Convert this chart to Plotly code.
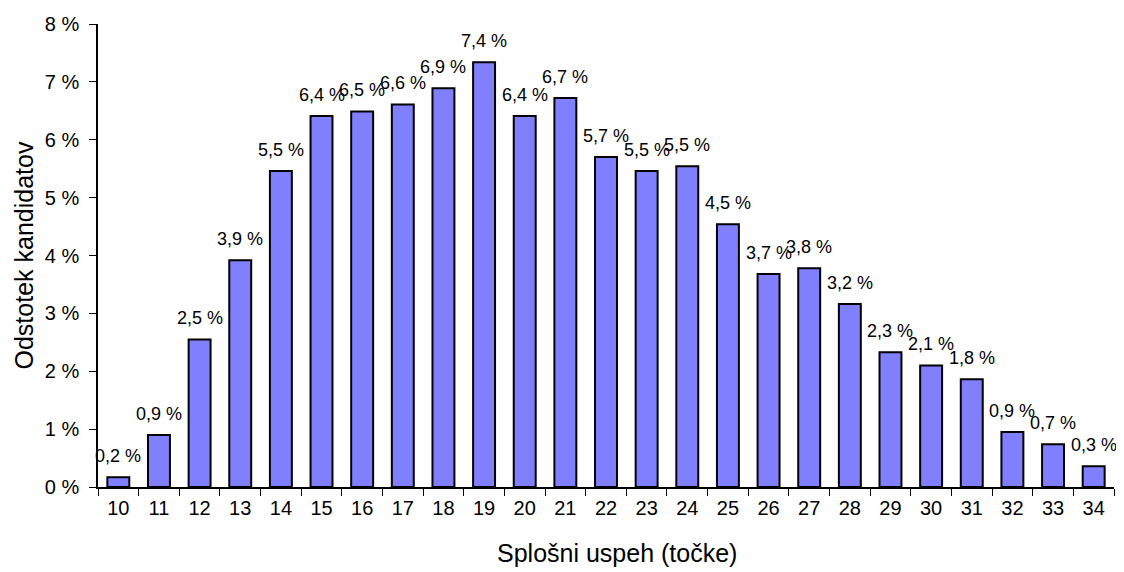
import plotly.graph_objects as go

categories = [str(v) for v in range(10, 35)]
values = [0.17, 0.9, 2.55, 3.92, 5.46, 6.41, 6.49, 6.61, 6.89, 7.34, 6.41, 6.72,
          5.70, 5.46, 5.54, 4.54, 3.68, 3.78, 3.16, 2.33, 2.10, 1.86, 0.95, 0.74, 0.36]
labels = ["0,2 %", "0,9 %", "2,5 %", "3,9 %", "5,5 %", "6,4 %", "6,5 %", "6,6 %", "6,9 %",
          "7,4 %", "6,4 %", "6,7 %", "5,7 %", "5,5 %", "5,5 %", "4,5 %", "3,7 %", "3,8 %",
          "3,2 %", "2,3 %", "2,1 %", "1,8 %", "0,9 %", "0,7 %", "0,3 %"]
ytick_vals = [0, 1, 2, 3, 4, 5, 6, 7, 8]
ytick_text = ["0 %", "1 %", "2 %", "3 %", "4 %", "5 %", "6 %", "7 %", "8 %"]
x_title = "Splošni uspeh (točke)"
y_title = "Odstotek kandidatov"

font = "Liberation Sans, Arial, sans-serif"

fig = go.Figure(go.Bar(
    x=categories, y=values,
    marker=dict(color="#8080FF", line=dict(color="#000000", width=2)),
    hoverinfo="x+y",
))

# data labels placed at each category's index on the category axis
for i, (v, t) in enumerate(zip(values, labels)):
    fig.add_annotation(x=i, y=v, text=t, showarrow=False, xanchor="center",
                       yanchor="bottom", yshift=9,
                       font=dict(family=font, size=18, color="#000000"))

fig.add_annotation(x=0, y=0.5, xref="paper", yref="paper", text=y_title,
                   showarrow=False, textangle=-90, xanchor="center", yanchor="middle",
                   xshift=-75, font=dict(family=font, size=25, color="#000000"))
fig.add_annotation(x=0.5, y=0, xref="paper", yref="paper", text=x_title,
                   showarrow=False, xanchor="center", yanchor="middle",
                   xshift=11, yshift=-66, font=dict(family=font, size=25, color="#000000"))

fig.update_layout(
    width=1124, height=572,
    margin=dict(l=90, r=18, t=16, b=93, autoexpand=False),
    plot_bgcolor="white", paper_bgcolor="white",
    bargap=0.46, showlegend=False,
    font=dict(family=font, color="#000000"),
)
fig.update_xaxes(
    type="category", range=[-0.5, len(categories) - 0.5],
    showline=True, linecolor="#000000", linewidth=1.5,
    ticks="outside", tickson="boundaries", ticklen=7, tickcolor="#000000",
    tickfont=dict(size=20), tickangle=0, ticklabelstandoff=2,
    showgrid=False, automargin=False,
)
fig.update_yaxes(
    range=[0, 8], tickvals=ytick_vals, ticktext=ytick_text,
    showline=True, linecolor="#000000", linewidth=1.5,
    ticks="outside", ticklen=7, tickcolor="#000000",
    tickfont=dict(size=20), ticklabelstandoff=6,
    showgrid=False, zeroline=False, automargin=False,
)

fig.write_html("out.html")
